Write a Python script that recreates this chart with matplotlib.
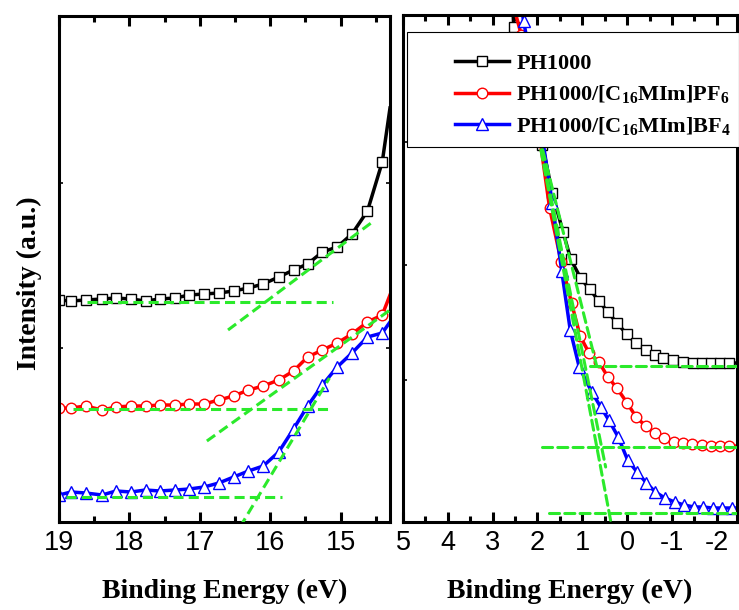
import matplotlib
matplotlib.use('Agg')
import matplotlib.pyplot as plt
from matplotlib.ticker import MultipleLocator
from matplotlib.patches import Rectangle

plt.rcParams['font.family'] = 'Liberation Sans'
plt.rcParams['axes.unicode_minus'] = False
plt.rcParams['mathtext.fontset'] = 'custom'
plt.rcParams['mathtext.rm'] = 'Liberation Serif:bold'
plt.rcParams['mathtext.it'] = 'Liberation Serif:bold'
plt.rcParams['mathtext.bf'] = 'Liberation Serif:bold'

# ---- left panel: secondary electron cutoff region ----
xL = [19.00, 18.83, 18.62, 18.39, 18.19, 17.98, 17.77, 17.57, 17.35, 17.15, 16.94, 16.73,
      16.52, 16.31, 16.10, 15.88, 15.67, 15.47, 15.26, 15.05, 14.84, 14.62, 14.41, 14.30]
blackL = [222, 221, 222, 223, 224, 223, 221, 223, 224, 227, 228, 229,
          231, 234, 238, 245, 252, 258, 270, 275, 288, 311, 360, 414]
redL = [114, 114, 116, 112, 115, 116, 116, 117, 117, 118, 118, 122,
        126, 132, 136, 142, 151, 165, 172, 179, 188, 200, 207, 227]
blueL = [27, 30, 29, 27, 31, 30, 32, 31, 32, 33, 35, 39,
         45, 51, 56, 70, 93, 116, 137, 155, 169, 185, 189, 200]

# fit lines (x pair, y pair)
fitL = [([18.6, 15.11], [220.5, 220.5]), ([16.60, 14.55], [192, 300]),
        ([18.8, 15.13], [113.5, 113.5]), ([16.90, 14.30], [81, 212]),
        ([18.9, 15.84], [25.3, 25.3]), ([16.43, 15.16], [-5, 144])]

# ---- right panel: valence band region ----
xRk = [2.58, 2.53, 2.32, 2.10, 1.89, 1.67, 1.43, 1.26, 1.04, 0.84, 0.63, 0.43, 0.23, 0.01,
       -0.19, -0.41, -0.61, -0.81, -1.02, -1.24, -1.47, -1.67, -1.88, -2.08, -2.28, -2.50]
blackR = [545, 495, 467, 421, 377, 329, 290, 263, 244, 233, 221, 210, 199, 188,
          179, 172, 167, 164, 162, 160, 159, 159, 159, 159, 159, 159]
xRr = [2.62, 2.36, 2.15, 1.94, 1.73, 1.47, 1.24, 1.05, 0.85, 0.63, 0.43, 0.23, 0.00,
       -0.20, -0.41, -0.61, -0.82, -1.04, -1.24, -1.45, -1.67, -1.88, -2.08, -2.28, -2.50]
redR = [530, 487, 434, 381, 314, 260, 219, 186, 169, 160, 145, 134, 119,
        105, 96, 89, 84, 80, 79, 78, 77, 76, 76, 76, 76]
xRb = [2.52, 2.31, 2.10, 1.89, 1.67, 1.46, 1.27, 1.07, 0.79, 0.59, 0.41, 0.20, -0.01,
       -0.22, -0.43, -0.63, -0.84, -1.06, -1.27, -1.49, -1.69, -1.91, -2.12, -2.34, -2.55]
blueR = [560, 501, 450, 384, 319, 251, 192, 155, 130, 115, 102, 85, 62,
         50, 39, 30, 24, 20, 17, 15, 15, 14, 14, 14, 14]

fitR = [([0.84, -2.45], [156, 156]), ([2.05, 0.68], [402, 156]),
        ([1.91, -2.45], [75, 75]), ([2.05, 0.48], [402, 55]),
        ([1.74, -2.45], [9.5, 9.5]), ([2.05, 0.35], [402, -3])]

labels = ['PH1000', 'PH1000/[C$_{16}$MIm]PF$_6$', 'PH1000/[C$_{16}$MIm]BF$_4$']
green = '#2bea2b'

fig = plt.figure(figsize=(7.39, 6.10), dpi=100)
axL = fig.add_axes([59/739, 88/610, 331/739, 506/610])
axR = fig.add_axes([403/739, 88/610, 334/739, 507/610])


def style(ax, xlim, ylim, yt, right):
    ax.set_xlim(*xlim)
    ax.set_ylim(*ylim)
    for s in ax.spines.values():
        s.set_linewidth(2.2)
    ax.xaxis.set_major_locator(MultipleLocator(1))
    ax.xaxis.set_minor_locator(MultipleLocator(0.5))
    ax.set_yticks(yt)
    ax.tick_params(axis='x', which='both', direction='in', top=True, width=2.2,
                   labelsize=19.5, pad=6)
    ax.tick_params(axis='x', which='major', length=7)
    ax.tick_params(axis='x', which='minor', length=4)
    ax.tick_params(axis='y', direction='in', length=3, width=1.2, labelleft=False,
                   right=right)
    ax.set_xlabel('Binding Energy (eV)', fontfamily='Liberation Serif',
                  fontweight='bold', fontsize=20)
    ax.xaxis.set_label_coords(0.5, -0.113)


mk = dict(lw=2.5, ms=7.6, mew=1.0, mfc='white')

# left
me = list(range(len(xL) - 1))
axL.plot(xL, blackL, '-s', color='black', markevery=me, **mk)
axL.plot(xL, redL, '-o', color='red', markevery=me, **mk)
axL.plot(xL, blueL, '-^', color='blue', markevery=me, **dict(mk, ms=8.6))
for xs, ys in fitL:
    axL.plot(xs, ys, color=green, lw=2.2, ls=(0, (3.3, 1.7)), zorder=3)
style(axL, (19, 14.3), (0, 506), [174, 339], True)
axL.set_ylabel('Intensity (a.u.)', fontfamily='Liberation Serif',
               fontweight='bold', fontsize=20)
axL.yaxis.set_label_coords(-0.05, 0.472)

# right
hk, = axR.plot(xRk, blackR, '-s', color='black', markevery=slice(1, -1), **mk)
hr, = axR.plot(xRr, redR, '-o', color='red', markevery=slice(1, -1), **mk)
hb, = axR.plot(xRb, blueR, '-^', color='blue', markevery=slice(1, -1), **dict(mk, ms=8.6))
for xs, ys in fitR:
    axR.plot(xs, ys, color=green, lw=2.2, ls=(0, (3.3, 1.7)), zorder=3,
             dash_capstyle='round')
style(axR, (5, -2.45), (0, 507), [142, 257, 380], False)

axR.add_patch(Rectangle((0.012, 0.740), 0.994, 0.227, transform=axR.transAxes,
                        facecolor='white', edgecolor='black', lw=0.8, zorder=4,
                        clip_on=False))
axR.legend([hk, hr, hb], labels, loc='center left', bbox_to_anchor=(0.156, 0.842),
           frameon=False, prop={'family': 'Liberation Serif', 'weight': 'bold', 'size': 16},
           handlelength=2.43, handletextpad=0.32, labelspacing=0.42, borderpad=0,
           borderaxespad=0)

fig.savefig('out.png', dpi=100)
